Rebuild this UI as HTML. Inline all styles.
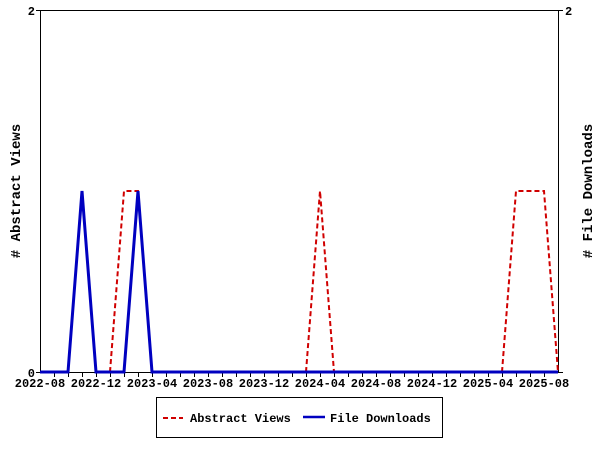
<!DOCTYPE html>
<html><head><style>body{margin:0;background:#fff}svg{display:block}text{font-family:"Liberation Mono","DejaVu Sans Mono",monospace;font-weight:bold;font-size:12px}</style></head><body>
<svg width="600" height="450" xmlns="http://www.w3.org/2000/svg">
<rect x="40.5" y="10.5" width="518" height="362" fill="none" stroke="#000"/>
<g stroke="#000">
<line x1="36" y1="10.5" x2="40" y2="10.5"/><line x1="36" y1="372.5" x2="40" y2="372.5"/>
<line x1="559" y1="10.5" x2="563" y2="10.5"/><line x1="559" y1="372.5" x2="563" y2="372.5"/>
<path d="M54.5 372v5M68.5 372v5M82.5 372v5M96.5 372v5M110.5 372v5M124.5 372v5M138.5 372v5M152.5 372v5M166.5 372v5M180.5 372v5M194.5 372v5M208.5 372v5M222.5 372v5M236.5 372v5M250.5 372v5M264.5 372v5M278.5 372v5M292.5 372v5M306.5 372v5M320.5 372v5M334.5 372v5M348.5 372v5M362.5 372v5M376.5 372v5M390.5 372v5M404.5 372v5M418.5 372v5M432.5 372v5M446.5 372v5M460.5 372v5M474.5 372v5M488.5 372v5M502.5 372v5M516.5 372v5M530.5 372v5M544.5 372v5"/>
</g>
<g text-anchor="end"><text x="35" y="15">2</text><text x="35" y="377">0</text></g>
<text x="565" y="15">2</text>
<g text-anchor="middle">
<text x="40" y="387">2022-08</text><text x="96" y="387">2022-12</text><text x="152" y="387">2023-04</text><text x="208" y="387">2023-08</text><text x="264" y="387">2023-12</text><text x="320" y="387">2024-04</text><text x="376" y="387">2024-08</text><text x="432" y="387">2024-12</text><text x="488" y="387">2025-04</text><text x="544" y="387">2025-08</text>
</g>
<text transform="translate(20,191) rotate(-90)" text-anchor="middle" style="font-size:14px">#&#160;Abstract&#160;Views</text>
<text transform="translate(592,191) rotate(-90)" text-anchor="middle" style="font-size:14px">#&#160;File&#160;Downloads</text>
<polyline fill="none" stroke="#d00000" stroke-width="2" stroke-dasharray="5,3" points="110,372 124,191 138,191 152,372"/>
<polyline fill="none" stroke="#d00000" stroke-width="2" stroke-dasharray="5,3" points="306,372 320,191 334,372"/>
<polyline fill="none" stroke="#d00000" stroke-width="2" stroke-dasharray="5,3" points="502,372 516,191 544,191 558,372"/>
<polyline fill="none" stroke="#0000c0" stroke-width="3" points="40,372 68,372 82,191 96,372 124,372 138,191 152,372 558,372"/>
<rect x="156.5" y="397.5" width="286" height="40" fill="#fff" stroke="#000"/>
<line x1="163" y1="418" x2="183" y2="418" stroke="#d00000" stroke-width="2" stroke-dasharray="5,3"/>
<text x="190" y="422">Abstract Views</text>
<line x1="303" y1="417" x2="325" y2="417" stroke="#0000c0" stroke-width="2.5"/>
<text x="330" y="422">File Downloads</text>
</svg>
</body></html>
